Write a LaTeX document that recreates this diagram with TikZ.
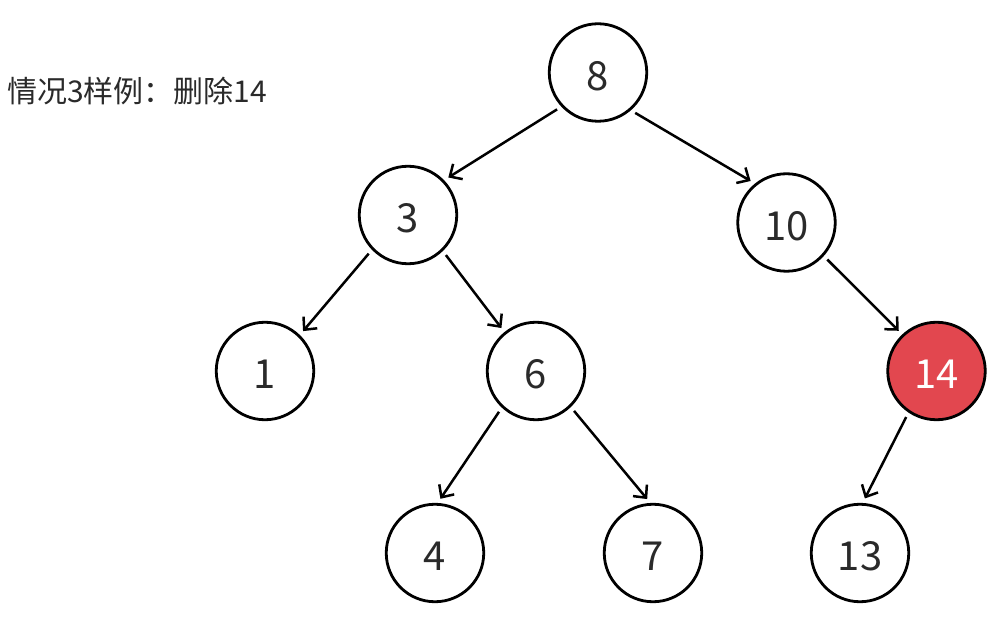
\documentclass[tikz,border=0pt]{standalone}
\usepackage{fontspec}
\setmainfont{Noto Sans CJK SC}
\usetikzlibrary{arrows.meta}
\definecolor{delred}{HTML}{E2474F}
\definecolor{txt}{HTML}{2A2A2A}
\newcommand{\nlab}[1]{\raisebox{-3.5pt}[\height][\depth]{#1}}
\tikzset{
  tnode/.style={circle, draw=black, line width=2.8pt, minimum size=97.5pt, inner sep=0pt,
    font=\fontsize{40}{42}\selectfont, text=txt},
  delnode/.style={tnode, fill=delred, text=white},
  edge/.style={line width=2.5pt, shorten <=5pt, shorten >=5pt,
    -{Straight Barb[length=9.5pt,width=18pt,line width=2.5pt]}},
  caption/.style={font=\fontsize{30}{32}\selectfont, text=txt, anchor=west, inner sep=0pt}
}
\begin{document}
\begin{tikzpicture}[x=1pt,y=-1pt]
\useasboundingbox (0,0) rectangle (1002,620);
\node[caption] (cap) at (7,91) {情况3样例：删除14};
\node[tnode] (n8) at (598,72.5) {\nlab{8}};
\node[tnode] (n3) at (408,215) {\nlab{3}};
\node[tnode] (n10) at (786.5,222.5) {\nlab{10}};
\node[tnode] (n1) at (265,371) {\nlab{1}};
\node[tnode] (n6) at (536,371) {\nlab{6}};
\node[delnode] (n14) at (936.5,371) {\nlab{14}};
\node[tnode] (n4) at (435,553) {\nlab{4}};
\node[tnode] (n7) at (653,553) {\nlab{7}};
\node[tnode] (n13) at (860,553) {\nlab{13}};
\draw[edge] (n8.223) -- (n3.44);
\draw[edge] (n8.311) -- (n10.129);
\draw[edge] (n3.224) -- (n1.46);
\draw[edge] (n3.314) -- (n6.129);
\draw[edge] (n10.318) -- (n14.133);
\draw[edge] (n6.227) -- (n4.87);
\draw[edge] (n6.314) -- (n7.93);
\draw[edge] (n14.236) -- (n13.87);
\end{tikzpicture}
\end{document}
